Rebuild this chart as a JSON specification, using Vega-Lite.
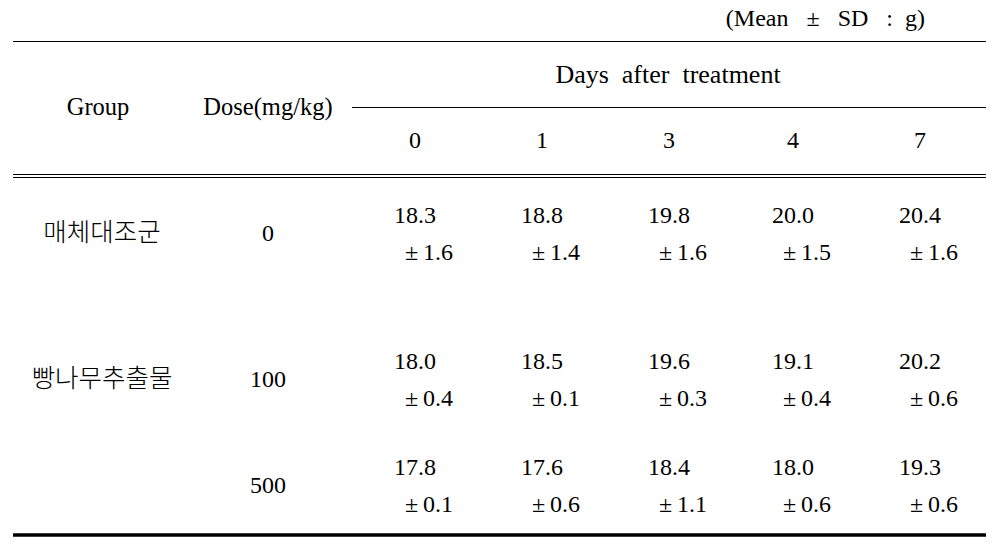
{
  "$schema": "https://vega.github.io/schema/vega-lite/v6.json",
  "width": 992,
  "height": 546,
  "autosize": {"type": "none"},
  "padding": 0,
  "background": "white",
  "config": {"view": {"stroke": null}, "axis": {"disable": true}, "text": {"font": "'Liberation Serif', 'Times New Roman', serif"}},
  "datasets": {
    "table": [
      {"group": "매체대조군", "dose": 0, "day": 0, "mean": 18.3, "sd": 1.6},
      {"group": "매체대조군", "dose": 0, "day": 1, "mean": 18.8, "sd": 1.4},
      {"group": "매체대조군", "dose": 0, "day": 3, "mean": 19.8, "sd": 1.6},
      {"group": "매체대조군", "dose": 0, "day": 4, "mean": 20.0, "sd": 1.5},
      {"group": "매체대조군", "dose": 0, "day": 7, "mean": 20.4, "sd": 1.6},
      {"group": "빵나무추출물", "dose": 100, "day": 0, "mean": 18.0, "sd": 0.4},
      {"group": "빵나무추출물", "dose": 100, "day": 1, "mean": 18.5, "sd": 0.1},
      {"group": "빵나무추출물", "dose": 100, "day": 3, "mean": 19.6, "sd": 0.3},
      {"group": "빵나무추출물", "dose": 100, "day": 4, "mean": 19.1, "sd": 0.4},
      {"group": "빵나무추출물", "dose": 100, "day": 7, "mean": 20.2, "sd": 0.6},
      {"group": "빵나무추출물", "dose": 500, "day": 0, "mean": 17.8, "sd": 0.1},
      {"group": "빵나무추출물", "dose": 500, "day": 1, "mean": 17.6, "sd": 0.6},
      {"group": "빵나무추출물", "dose": 500, "day": 3, "mean": 18.4, "sd": 1.1},
      {"group": "빵나무추출물", "dose": 500, "day": 4, "mean": 18.0, "sd": 0.6},
      {"group": "빵나무추출물", "dose": 500, "day": 7, "mean": 19.3, "sd": 0.6}
    ],
    "one": [{"k": 1}]
  },
  "resolve": {"scale": {"x": "independent", "y": "independent"}},
  "layer": [
    {
      "data": {"name": "one"},
      "mark": {"type": "rule", "color": "black", "strokeWidth": 1},
      "encoding": {
        "x": {"datum": 13, "type": "quantitative", "scale": {"domain": [0, 992], "range": [0, 992], "nice": false, "zero": false}},
        "x2": {"datum": 986},
        "y": {"datum": 41.5, "type": "quantitative", "scale": {"domain": [0, 546], "range": [0, 546], "nice": false, "zero": false}}
      }
    },
    {
      "data": {"name": "one"},
      "mark": {"type": "rule", "color": "black", "strokeWidth": 1},
      "encoding": {
        "x": {"datum": 352, "type": "quantitative", "scale": {"domain": [0, 992], "range": [0, 992], "nice": false, "zero": false}},
        "x2": {"datum": 986},
        "y": {"datum": 107.5, "type": "quantitative", "scale": {"domain": [0, 546], "range": [0, 546], "nice": false, "zero": false}}
      }
    },
    {
      "data": {"name": "one"},
      "mark": {"type": "rule", "color": "black", "strokeWidth": 1.2},
      "encoding": {
        "x": {"datum": 13, "type": "quantitative", "scale": {"domain": [0, 992], "range": [0, 992], "nice": false, "zero": false}},
        "x2": {"datum": 986},
        "y": {"datum": 174.5, "type": "quantitative", "scale": {"domain": [0, 546], "range": [0, 546], "nice": false, "zero": false}}
      }
    },
    {
      "data": {"name": "one"},
      "mark": {"type": "rule", "color": "black", "strokeWidth": 1.2},
      "encoding": {
        "x": {"datum": 13, "type": "quantitative", "scale": {"domain": [0, 992], "range": [0, 992], "nice": false, "zero": false}},
        "x2": {"datum": 986},
        "y": {"datum": 177.5, "type": "quantitative", "scale": {"domain": [0, 546], "range": [0, 546], "nice": false, "zero": false}}
      }
    },
    {
      "data": {"name": "one"},
      "mark": {"type": "rule", "color": "black", "strokeWidth": 3.5},
      "encoding": {
        "x": {"datum": 13, "type": "quantitative", "scale": {"domain": [0, 992], "range": [0, 992], "nice": false, "zero": false}},
        "x2": {"datum": 986},
        "y": {"datum": 535, "type": "quantitative", "scale": {"domain": [0, 546], "range": [0, 546], "nice": false, "zero": false}}
      }
    },
    {
      "data": {"name": "one"},
      "mark": {"type": "text", "text": "(Mean\u00a0\u00a0 ±\u00a0\u00a0 SD\u00a0\u00a0 :\u00a0 g)", "fontSize": 24, "align": "right", "baseline": "middle", "color": "black"},
      "encoding": {
        "x": {"datum": 925, "type": "quantitative", "scale": {"domain": [0, 992], "range": [0, 992], "nice": false, "zero": false}},
        "y": {"datum": 19, "type": "quantitative", "scale": {"domain": [0, 546], "range": [0, 546], "nice": false, "zero": false}}
      }
    },
    {
      "data": {"name": "one"},
      "mark": {"type": "text", "text": "Days\u00a0 after\u00a0 treatment", "fontSize": 26, "align": "center", "baseline": "middle", "color": "black"},
      "encoding": {
        "x": {"datum": 668, "type": "quantitative", "scale": {"domain": [0, 992], "range": [0, 992], "nice": false, "zero": false}},
        "y": {"datum": 75, "type": "quantitative", "scale": {"domain": [0, 546], "range": [0, 546], "nice": false, "zero": false}}
      }
    },
    {
      "data": {"name": "one"},
      "mark": {"type": "text", "text": "Group", "fontSize": 24.5, "align": "center", "baseline": "middle", "color": "black"},
      "encoding": {
        "x": {"datum": 98, "type": "quantitative", "scale": {"domain": [0, 992], "range": [0, 992], "nice": false, "zero": false}},
        "y": {"datum": 108, "type": "quantitative", "scale": {"domain": [0, 546], "range": [0, 546], "nice": false, "zero": false}}
      }
    },
    {
      "data": {"name": "one"},
      "mark": {"type": "text", "text": "Dose(mg/kg)", "fontSize": 24.5, "align": "center", "baseline": "middle", "color": "black"},
      "encoding": {
        "x": {"datum": 268, "type": "quantitative", "scale": {"domain": [0, 992], "range": [0, 992], "nice": false, "zero": false}},
        "y": {"datum": 108, "type": "quantitative", "scale": {"domain": [0, 546], "range": [0, 546], "nice": false, "zero": false}}
      }
    },
    {
      "data": {"name": "table"},
      "transform": [{"aggregate": [{"op": "count", "as": "n"}], "groupby": ["day"]}],
      "mark": {"type": "text", "fontSize": 24, "align": "center", "baseline": "middle", "color": "black"},
      "encoding": {
        "x": {"field": "day", "type": "quantitative", "scale": {"domain": [0, 1, 3, 4, 7], "range": [415, 542, 669, 793, 920], "nice": false, "zero": false}},
        "y": {"datum": 141, "type": "quantitative", "scale": {"domain": [0, 546], "range": [0, 546], "nice": false, "zero": false}},
        "text": {"field": "day", "type": "nominal"}
      }
    },
    {
      "data": {"name": "table"},
      "transform": [{"aggregate": [{"op": "min", "field": "dose", "as": "dose"}], "groupby": ["group"]}],
      "mark": {"type": "text", "font": "'Noto Sans CJK KR', sans-serif", "fontSize": 25.5, "fontWeight": 300, "align": "center", "baseline": "middle", "dy": 17, "color": "black"},
      "encoding": {
        "x": {"datum": 102, "type": "quantitative", "scale": {"domain": [0, 992], "range": [0, 992], "nice": false, "zero": false}},
        "y": {"field": "dose", "type": "quantitative", "scale": {"domain": [0, 100, 500], "range": [216, 362, 468], "nice": false, "zero": false}},
        "text": {"field": "group", "type": "nominal"}
      }
    },
    {
      "data": {"name": "table"},
      "transform": [{"aggregate": [{"op": "count", "as": "n"}], "groupby": ["dose"]}],
      "mark": {"type": "text", "fontSize": 24, "align": "center", "baseline": "middle", "dy": 18, "color": "black"},
      "encoding": {
        "x": {"datum": 268, "type": "quantitative", "scale": {"domain": [0, 992], "range": [0, 992], "nice": false, "zero": false}},
        "y": {"field": "dose", "type": "quantitative", "scale": {"domain": [0, 100, 500], "range": [216, 362, 468], "nice": false, "zero": false}},
        "text": {"field": "dose", "type": "nominal"}
      }
    },
    {
      "data": {"name": "table"},
      "mark": {"type": "text", "fontSize": 24, "align": "center", "baseline": "middle", "color": "black"},
      "encoding": {
        "x": {"field": "day", "type": "quantitative", "scale": {"domain": [0, 1, 3, 4, 7], "range": [415, 542, 669, 793, 920], "nice": false, "zero": false}},
        "y": {"field": "dose", "type": "quantitative", "scale": {"domain": [0, 100, 500], "range": [216, 362, 468], "nice": false, "zero": false}},
        "text": {"field": "mean", "type": "quantitative", "format": ".1f"}
      }
    },
    {
      "data": {"name": "table"},
      "transform": [{"calculate": "'±\u2009' + format(datum.sd, '.1f')", "as": "sdLabel"}],
      "mark": {"type": "text", "fontSize": 24, "align": "center", "baseline": "middle", "dx": 14, "dy": 37, "color": "black"},
      "encoding": {
        "x": {"field": "day", "type": "quantitative", "scale": {"domain": [0, 1, 3, 4, 7], "range": [415, 542, 669, 793, 920], "nice": false, "zero": false}},
        "y": {"field": "dose", "type": "quantitative", "scale": {"domain": [0, 100, 500], "range": [216, 362, 468], "nice": false, "zero": false}},
        "text": {"field": "sdLabel", "type": "nominal"}
      }
    }
  ]
}
